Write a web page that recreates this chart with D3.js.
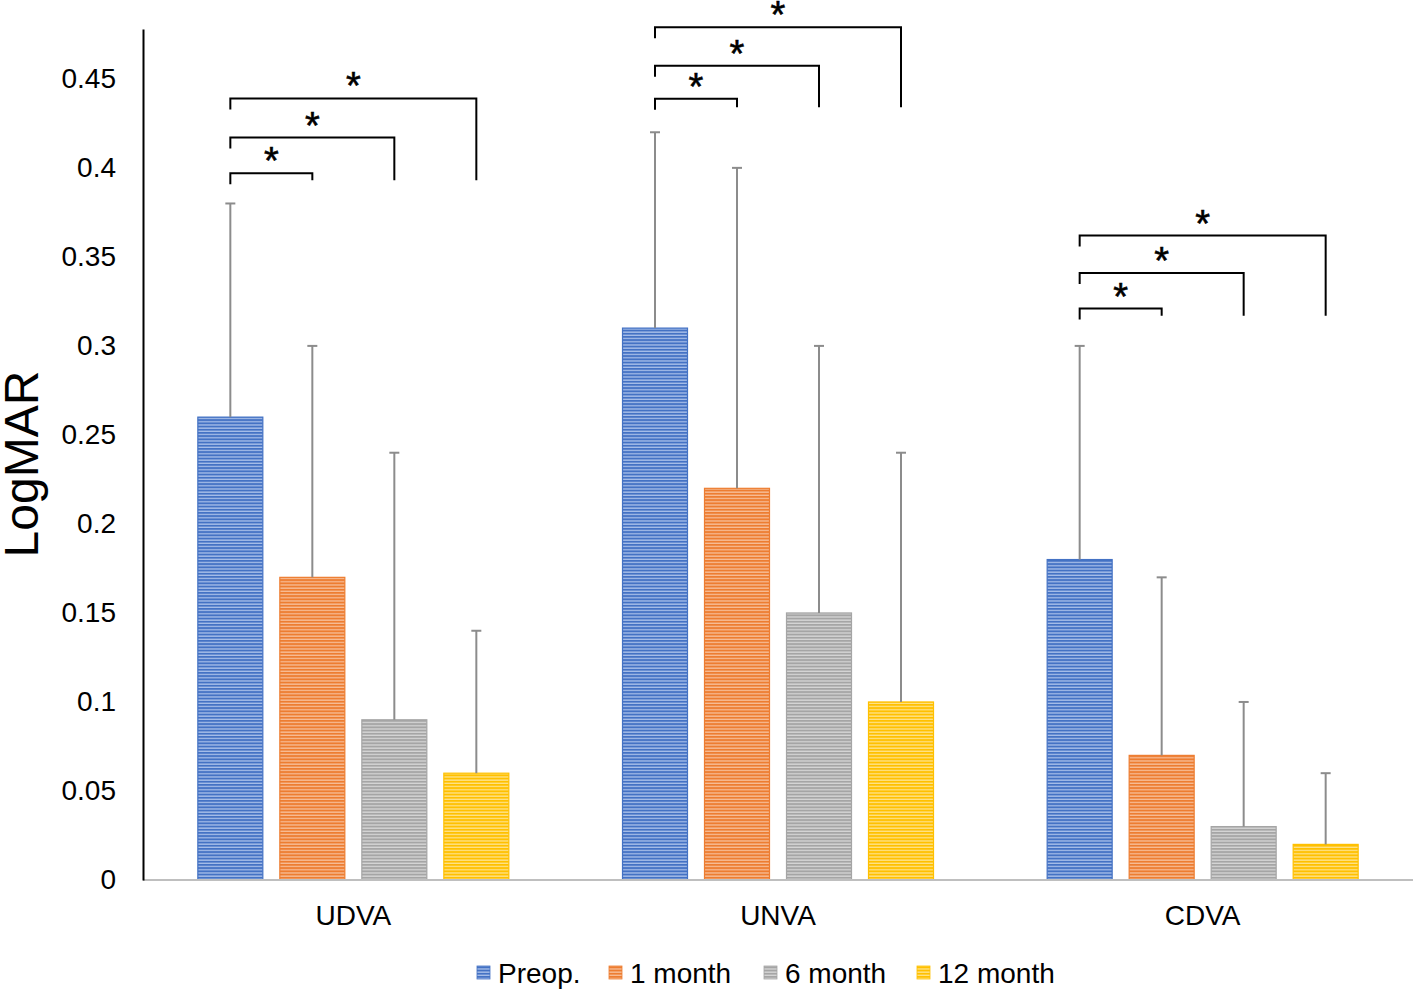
<!DOCTYPE html>
<html>
<head>
<meta charset="utf-8">
<script src="https://cdn.jsdelivr.net/npm/d3@7"></script>
<style>
  body { margin: 0; background: #fff; }
  svg { display: block; font-family: "Liberation Sans", Arial, sans-serif; }
</style>
</head>
<body>
<svg id="chart" width="1416" height="991"></svg>
<script>
// ---- data ----
const categories = ["UDVA", "UNVA", "CDVA"];
const seriesNames = ["Preop.", "1 month", "6 month", "12 month"];
const preopMean  = [0.26, 0.31, 0.18];
const month1Mean = [0.17, 0.22, 0.07];
const month6Mean = [0.09, 0.15, 0.03];
const month12Mean = [0.06, 0.10, 0.02];
const preopSD   = [0.12, 0.11, 0.12];
const month1SD  = [0.13, 0.18, 0.10];
const month6SD  = [0.15, 0.15, 0.07];
const month12SD = [0.08, 0.14, 0.04];
const yTicks = [0, 0.05, 0.1, 0.15, 0.2, 0.25, 0.3, 0.35, 0.4, 0.45];
const yTickLabels = ["0", "0.05", "0.1", "0.15", "0.2", "0.25", "0.3", "0.35", "0.4", "0.45"];
// significance brackets: category, target series index, bracket level, leg bottom
const bracketCategory = ["UDVA","UDVA","UDVA","UNVA","UNVA","UNVA","CDVA","CDVA","CDVA"];
const bracketTarget   = [1, 2, 3, 1, 2, 3, 1, 2, 3];
const bracketLevel    = [0.397, 0.417, 0.439, 0.4388, 0.4573, 0.479, 0.321, 0.341, 0.362];
const bracketBottom   = [0.393, 0.393, 0.393, 0.434, 0.434, 0.434, 0.317, 0.317, 0.317];
const bracketLabel    = ["*","*","*","*","*","*","*","*","*"];

const colors = ["#4472C4", "#ED7D31", "#A5A5A5", "#FFC000"];
const lightColors = ["#A9C0EA", "#F7BE98", "#D6D6D6", "#FFE38A"];

const means = [preopMean, month1Mean, month6Mean, month12Mean];
const sds = [preopSD, month1SD, month6SD, month12SD];

const svg = d3.select("#chart");
const plotLeft = 143, plotRight = 1413, plotTop = 29, plotBottom = 880;

const x0 = d3.scaleBand().domain(categories).range([141, 1415]).paddingInner(0).paddingOuter(0);
const x1 = d3.scaleBand().domain(d3.range(4)).range([0, 328]).paddingInner(16/82).paddingOuter(8/82);
const groupOffset = (x0.bandwidth() - 328) / 2;
const y = d3.scaleLinear().domain([0, 0.478]).range([plotBottom, plotTop]);

// patterns
const defs = svg.append("defs");
colors.forEach((c, i) => {
  const p = defs.append("pattern").attr("id", "pat" + i)
    .attr("patternUnits", "userSpaceOnUse").attr("width", 8).attr("height", 3.2);
  p.append("rect").attr("width", 8).attr("height", 3.2).attr("fill", lightColors[i]);
  p.append("rect").attr("width", 8).attr("height", 1.9).attr("fill", c);
});

// data rows
const rows = [];
categories.forEach((cat, ci) => {
  means.forEach((arr, si) => {
    rows.push({cat, ci, si, v: arr[ci], sd: sds[si][ci]});
  });
});
const bx = d => x0(d.cat) + groupOffset + x1(d.si);

// bars
svg.append("g").selectAll("rect").data(rows).join("rect")
  .attr("x", d => bx(d) + 0.5)
  .attr("y", d => y(d.v))
  .attr("width", x1.bandwidth() - 1)
  .attr("height", d => y(0) - y(d.v))
  .attr("fill", d => `url(#pat${d.si})`)
  .attr("stroke", d => colors[d.si])
  .attr("stroke-width", 1.2);

// error bars
const eg = svg.append("g").attr("stroke", "#8C8C8C").attr("stroke-width", 2);
rows.forEach(d => {
  const cx = bx(d) + x1.bandwidth() / 2;
  eg.append("line").attr("x1", cx).attr("x2", cx).attr("y1", y(d.v)).attr("y2", y(d.v + d.sd));
  eg.append("line").attr("x1", cx - 5).attr("x2", cx + 5).attr("y1", y(d.v + d.sd)).attr("y2", y(d.v + d.sd));
});

// x axis line
svg.append("line").attr("x1", plotLeft).attr("x2", plotRight).attr("y1", y(0)).attr("y2", y(0))
  .attr("stroke", "#BFBFBF").attr("stroke-width", 2);

// y axis
const yAxis = d3.axisLeft(y).tickValues(yTicks).tickSize(0).tickPadding(27)
  .tickFormat((d, i) => yTickLabels[i]);
const yg = svg.append("g").attr("transform", `translate(${plotLeft},0)`).call(yAxis);
yg.select(".domain").attr("stroke", "#000").attr("stroke-width", 2);
yg.selectAll("text").attr("font-size", 28).attr("fill", "#000")
  .attr("font-family", "Liberation Sans, Arial, sans-serif");

// category labels
const xAxis = d3.axisBottom(x0).tickSize(0).tickPadding(25);
const xg = svg.append("g").attr("transform", `translate(0,${plotBottom})`).call(xAxis);
xg.select(".domain").remove();
xg.selectAll("text").attr("font-size", 28).attr("fill", "#000")
  .attr("font-family", "Liberation Sans, Arial, sans-serif");

// y title
svg.append("text").attr("transform", "translate(38,464) rotate(-90)")
  .attr("text-anchor", "middle").attr("font-size", 48).attr("fill", "#000").text("LogMAR");

// brackets
const bg = svg.append("g").attr("stroke", "#000").attr("stroke-width", 2).attr("fill", "none");
bracketCategory.forEach((cat, i) => {
  const startX = x0(cat) + groupOffset + x1(0) + x1.bandwidth() / 2;
  const endX = x0(cat) + groupOffset + x1(bracketTarget[i]) + x1.bandwidth() / 2;
  const ly = y(bracketLevel[i]);
  bg.append("path").attr("d", `M${startX},${ly + 11}V${ly}H${endX}V${y(bracketBottom[i])}`);
  svg.append("text").attr("x", (startX + endX) / 2).attr("y", ly + 1)
    .attr("text-anchor", "middle").attr("font-size", 38).attr("fill", "#000")
    .attr("stroke", "#000").attr("stroke-width", 0.6)
    .text(bracketLabel[i]);
});

// legend
const legendX = [477, 609, 764, 917];
const lg = svg.append("g");
seriesNames.forEach((name, i) => {
  lg.append("rect").attr("x", legendX[i]).attr("y", 966).attr("width", 13).attr("height", 13)
    .attr("fill", `url(#pat${i})`).attr("stroke", colors[i]).attr("stroke-width", 0.8);
  lg.append("text").attr("x", legendX[i] + 21).attr("y", 983).attr("font-size", 28)
    .attr("fill", "#000").text(name);
});
</script>
</body>
</html>
